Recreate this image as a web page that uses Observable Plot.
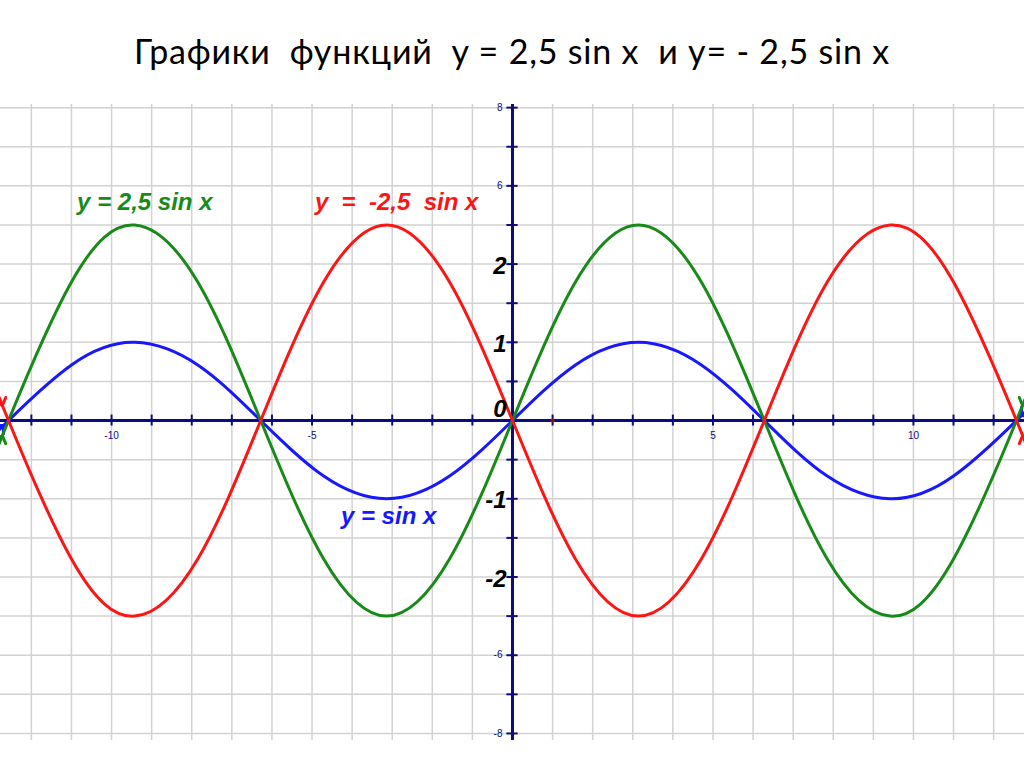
<!DOCTYPE html>
<html><head><meta charset="utf-8">
<script src="https://cdn.jsdelivr.net/npm/d3@7"></script>
<script src="https://cdn.jsdelivr.net/npm/@observablehq/plot@0.6"></script>
<style>
body{margin:0;background:#fff;width:1024px;height:767px;overflow:hidden}
#title{height:100px;font-family:Lato,"Open Sans",sans-serif;font-size:34px;letter-spacing:0.8px;white-space:pre;text-align:center;line-height:102px;color:#000}
#chart svg{display:block}
</style></head><body>
<div id="title">Графики  функций  y = 2,5 sin x  и y= - 2,5 sin x</div>
<div id="chart"></div>
<script>
// sample x positions (grid units, as drawn on the chart)
const xSamples = [-12.75, -12.57, -11.00, -9.42, -7.85, -6.28, -4.71, -3.14, -1.57, 0, 1.57, 3.14, 4.71, 6.28, 7.85, 9.42, 11.00, 12.57, 12.75];
// y = sin x (in labelled units)
const blueY = [-0.09, 0, 0.71, 1, 0.71, 0, -0.71, -1, -0.71, 0, 0.71, 1, 0.71, 0, -0.71, -1, -0.71, 0, 0.09];
// y = 2,5 sin x
const greenY = [-0.23, 0, 1.77, 2.5, 1.77, 0, -1.77, -2.5, -1.77, 0, 1.77, 2.5, 1.77, 0, -1.77, -2.5, -1.77, 0, 0.23];
// y = -2,5 sin x
const redY = [0.23, 0, -1.77, -2.5, -1.77, 0, 1.77, 2.5, 1.77, 0, -1.77, -2.5, -1.77, 0, 1.77, 2.5, 1.77, 0, -0.23];

const gridX = [-12,-11,-10,-9,-8,-7,-6,-5,-4,-3,-2,-1,0,1,2,3,4,5,6,7,8,9,10,11,12];
const gridY = [-4,-3.5,-3,-2.5,-2,-1.5,-1,-0.5,0,0.5,1,1.5,2,2.5,3,3.5,4];
const xTickLabels = [-10, -5, 5, 10];
const ySmallTicks = [4, 3, -3, -4];
const ySmallLabels = ["8", "6", "-6", "-8"];
const yBoldTicks = [2, 1, -1, -2];
const yBoldLabels = ["2", "1", "-1", "-2"];
const originLabel = "0";
const curveLabels = [
  {text: "y = 2,5 sin x", series: "green", x: -9.42, y: 2.5},
  {text: "y  =  -2,5  sin x", series: "red", x: -3.14, y: 2.5},
  {text: "y = sin x", series: "blue", x: -3.14, y: -1}
];

const NAVY = "#0c0c80";
const GREEN = "#178a17";
const RED = "#ff1414";
const BLUE = "#1818ff";
const colorOf = {green: GREEN, red: RED, blue: BLUE};

const pts = ys => xSamples.map((x, i) => ({x, y: ys[i]}));
const lineOpts = c => ({x: "x", y: "y", stroke: c, strokeWidth: 3, curve: "natural", markerStart: "arrow-reverse", markerEnd: "arrow"});
const bold = {fontSize: 24, fontWeight: "bold", fontStyle: "italic", fontFamily: "Liberation Sans, Arial, sans-serif"};
const small = {fontSize: 10, fontFamily: "Liberation Sans, Arial, sans-serif", fill: NAVY};

const chart = Plot.plot({
  width: 1024, height: 645,
  marginTop: 4, marginBottom: 5, marginLeft: 0, marginRight: 0,
  x: {domain: [-12.77, 12.77], axis: null},
  y: {domain: [-4.09, 4.04], axis: null},
  style: {background: "white"},
  marks: [
    Plot.ruleX(gridX, {stroke: "#d2d2d2", strokeWidth: 1.5}),
    Plot.ruleY(gridY, {stroke: "#d2d2d2", strokeWidth: 1.5}),
    Plot.ruleY([0], {stroke: NAVY, strokeWidth: 3}),
    Plot.ruleX([0], {stroke: NAVY, strokeWidth: 3}),
    Plot.ruleX(gridX, {x: d => d, y1: -0.07, y2: 0.07, stroke: NAVY, strokeWidth: 2}),
    Plot.ruleY(gridY, {y: d => d, x1: -0.14, x2: 0.14, stroke: NAVY, strokeWidth: 2}),
    Plot.text(xTickLabels, {x: d => d, y: 0, dy: 15, text: d => String(d), ...small}),
    Plot.text(ySmallTicks, {x: 0, y: d => d, dx: -10, text: (d, i) => ySmallLabels[i], textAnchor: "end", ...small}),
    Plot.dot([0], {x: 1, y: 0, r: 2, fill: "#8b1010", stroke: "none"}),
    Plot.line(pts(blueY), lineOpts(BLUE)),
    Plot.line(pts(greenY), lineOpts(GREEN)),
    Plot.line(pts(redY), lineOpts(RED)),
    Plot.text(yBoldTicks, {x: 0, y: d => d, dx: -6, dy: 2, text: (d, i) => yBoldLabels[i], textAnchor: "end", fill: "black", ...bold}),
    Plot.text([originLabel], {x: 0, y: 0, dx: -6, dy: -11, text: d => d, textAnchor: "end", fill: "black", ...bold}),
    Plot.text(curveLabels.filter(d => d.series !== "blue"), {x: "x", y: "y", dx: 10, dy: -23, text: "text", fill: d => colorOf[d.series], ...bold}),
    Plot.text(curveLabels.filter(d => d.series === "blue"), {x: "x", y: "y", dx: 2, dy: 18, text: "text", fill: d => colorOf[d.series], ...bold})
  ]
});
document.getElementById("chart").appendChild(chart);
</script>
</body></html>
